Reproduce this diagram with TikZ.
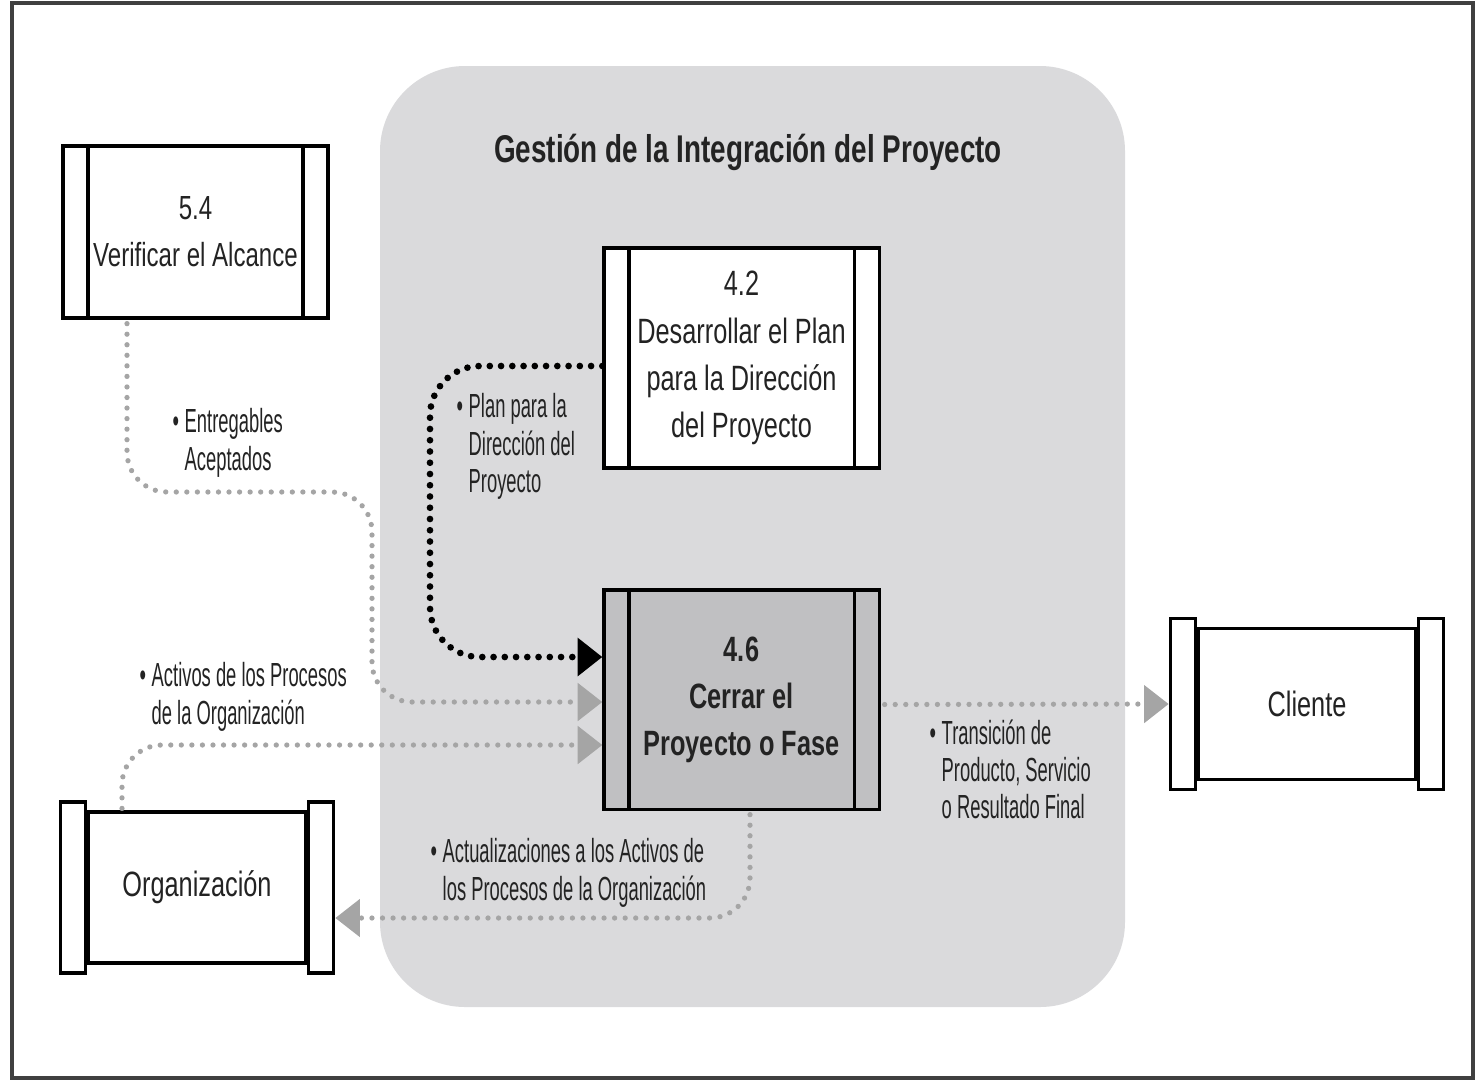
\documentclass[tikz,border=0pt]{standalone}
\usepackage{fontspec}
\setmainfont{Liberation Sans}[FakeStretch=0.72]
\newfontfamily\narrowlbl{Liberation Sans}[FakeStretch=0.55]
\usepackage{tikz}
\usetikzlibrary{positioning, arrows.meta, calc}

\definecolor{zonegray}{RGB}{218,218,220}
\definecolor{boxgray}{RGB}{192,192,194}
\definecolor{dotgray}{RGB}{165,165,165}
\definecolor{inkgray}{RGB}{35,35,35}

\begin{document}
\begin{tikzpicture}[x=0.01cm, y=-0.01cm]
	% Define styles
	\tikzset{
		proc/.style={rectangle, draw, line width=0.9pt, fill=white, minimum width=2.75cm, minimum height=2.2cm, align=center, text=inkgray, font=\fontsize{10}{13.4}\selectfont,
			path picture={
				\draw[line width=0.9pt] ($(path picture bounding box.north west)+(25,0)$) -- ($(path picture bounding box.south west)+(25,0)$);
				\draw[line width=0.9pt] ($(path picture bounding box.north east)+(-25,0)$) -- ($(path picture bounding box.south east)+(-25,0)$);
			}},
		ent/.style={rectangle, draw, line width=0.9pt, fill=white, minimum width=2.17cm, minimum height=1.51cm, text=inkgray, font=\fontsize{10}{13.4}\selectfont},
		entcap/.style={rectangle, draw, line width=0.9pt, fill=white, inner sep=0pt, minimum width=0.25cm, minimum height=1.71cm},
		lbl/.style={inner sep=0pt, anchor=north west, align=left, text=inkgray, font=\narrowlbl\fontsize{9.5}{10.6}\selectfont},
		gline/.style={draw=dotgray, line width=1.5pt, line cap=round, dash pattern=on 0pt off 3pt, rounded corners=0.4cm, -{Triangle[length=7pt,width=10.5pt]}},
		bline/.style={draw=black, line width=1.9pt, line cap=round, dash pattern=on 0pt off 3.2pt, rounded corners=0.5cm, -{Triangle[length=7pt,width=10.5pt]}}
	}
	\useasboundingbox (0,0) rectangle (1479,1081);

	% Frame and integration area
	\draw[line width=1pt, black!75] (12,3) rectangle (1473,1078);
	\fill[zonegray, rounded corners=0.85cm] (380,66) rectangle (1125,1007);
	\node[text=inkgray, font=\bfseries\fontsize{11}{13}\selectfont] (ttl) at (748,152) {Gestión de la Integración del Proyecto};

	% Nodes
	\node[proc, minimum width=2.65cm, minimum height=1.72cm, font=\fontsize{9.5}{13.4}\selectfont] (v54) at (195.5,232) {5.4\\Verificar el Alcance};
	\node[proc] (d42) at (741.5,358) {4.2\\Desarrollar el Plan\\para la Dirección\\del Proyecto};
	\node[proc, fill=boxgray, minimum height=2.19cm, font=\bfseries\fontsize{10}{13.4}\selectfont] (c46) at (741.5,699.5) {4.6\\Cerrar el\\Proyecto o Fase};

	\node[ent] (cli) at (1307,704) {Cliente};
	\node[entcap, left=0pt of cli] (cliL) {};
	\node[entcap, right=0pt of cli] (cliR) {};

	\node[ent] (org) at (197,887.5) {Organización};
	\node[entcap, left=0pt of org] (orgL) {};
	\node[entcap, right=0pt of org] (orgR) {};

	% Waypoints
	\coordinate (kA) at (372,492);
	\coordinate (kB) at (430,657);

	% Arrows
	\path[gline] ($(v54.south)+(-68.5,4)$) |- (kA) |- ($(c46.west)+(0,2.5)$);
	\path[bline] ($(d42.west)+(0,8)$) -| (kB) -- ($(c46.west)+(0,-42.5)$);
	\path[gline] ($(org.north)+(-75,-2)$) |- ($(c46.west)+(0,45.5)$);
	\path[gline] ($(c46.south)+(8.5,4)$) |- ($(orgR.east)+(0,30.5)$);
	\path[gline] ($(c46.east)+(4,5)$) -- (cliL.west);

	% Labels
	\node[lbl] (lEnt) at (172,408) {\textbullet\,Entregables\\\hphantom{\textbullet\,}Aceptados};
	\node[lbl] (lPlan) at (456,393) {\textbullet\,Plan para la\\\hphantom{\textbullet\,}Dirección del\\\hphantom{\textbullet\,}Proyecto};
	\node[lbl] (lAct) at (139,662) {\textbullet\,Activos de los Procesos\\\hphantom{\textbullet\,}de la Organización};
	\node[lbl] (lUpd) at (430,838) {\textbullet\,Actualizaciones a los Activos de\\\hphantom{\textbullet\,}los Procesos de la Organización};
	\node[lbl] (lTra) at (929,719) {\textbullet\,Transición de\\\hphantom{\textbullet\,}Producto, Servicio\\\hphantom{\textbullet\,}o Resultado Final};
\end{tikzpicture}
\end{document}
